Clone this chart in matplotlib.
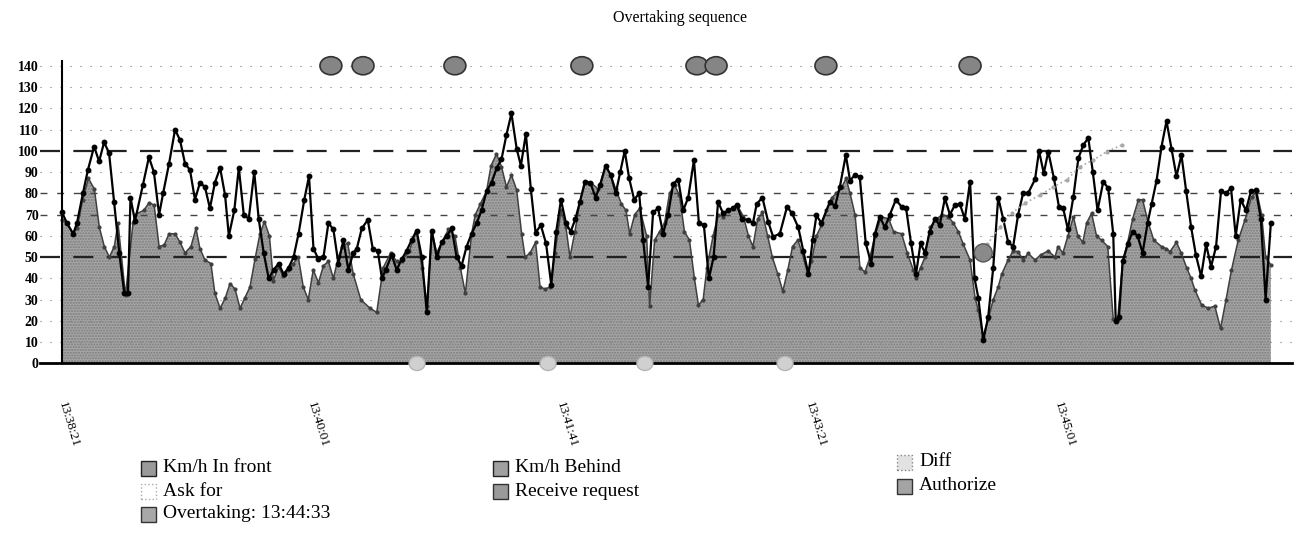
import matplotlib.pyplot as plt
from matplotlib.patches import Ellipse, Rectangle

plt.rcParams['font.family'] = ['Liberation Serif', 'DejaVu Serif']

# seconds after 13:38:21
front_t = [0, 2, 4.5, 6, 8.4, 10.4, 12.9, 14.9, 16.9, 18.9, 20.9, 23, 25, 26.5, 27.5, 29.3, 32.5, 34.9,
           36.9, 39, 40.6, 43, 45.4, 47.4, 49.4, 51.4, 53.4, 55.4, 57.4, 59.4, 61.4, 63.5, 65.5, 67, 69.2,
           71, 73, 75, 77.2, 79, 81, 83, 85, 87, 89, 91, 93, 95, 97.3, 99.2, 101, 103, 105, 107, 109, 111,
           113, 115, 117, 118.4, 120.4, 122.8, 124.8, 126.8, 128.5, 130, 132.4, 134.4, 136.4, 138.4, 140.4,
           142.4, 144.5, 146.5, 148.5, 150.5, 152.5, 154.5, 156.5, 158.5, 160.5, 162.5, 164.5, 166.5, 168.5,
           170.5, 172.5, 174.6, 176.5, 178.5, 180.5, 182.6, 184.3, 186.3, 188.3, 190.2, 192.3, 194.4, 196.5,
           198.5, 200.4, 202.4, 204.3, 206.2, 208, 210, 212.2, 214.3, 216.2, 218.3, 220.4, 222.4, 224.2, 226,
           227.8, 229.8, 231.8, 233.4, 235.4, 237.4, 239.4, 241.4, 243.4, 245.5, 247.5, 249.5, 251.5, 253.8,
           255.8, 257.8, 259.8, 261.7, 263.5, 265.5, 267.5, 269.5, 271, 273, 275.6, 277.5, 279, 281.3, 283.6,
           285.6, 288.3, 291.2, 293.2, 295.7, 297.7, 299.8, 301.5, 303, 305, 308.4, 310.5, 312.4, 314.8, 316.5,
           318.4, 320.4, 322.8, 325, 326.5, 328.4, 330.5, 332.5, 334.9, 337.2, 339, 341, 343, 344.8, 346.6,
           348.5, 350.6, 352.5, 354.6, 356.6, 358.6, 360.6, 362.6, 364.7, 366.5, 368, 370, 372, 374, 376, 378,
           380, 382, 384, 386, 388, 390.8, 392.4, 394.3, 396.1, 398.4, 400.4, 402.1, 404, 406.2, 408.2, 410.2,
           412.2, 414, 415.9, 418.2, 420.2, 422.2, 423.2, 424.5, 426, 428, 430, 432, 434, 436, 437.6, 439.6,
           441.6, 443.6, 445.6, 447.6, 449.6, 451.5, 453.5, 455.4, 457.5, 459.5, 461.5, 463.5, 465.5, 467.5,
           469.5, 471.4, 473.4, 475.5, 477.5, 479.5, 481.5, 483.4, 485.5]
front_v = [71, 66, 61, 66, 80, 91, 102, 95, 104, 99, 76, 52, 33, 33, 78, 67, 84, 97,
           90, 70, 80, 94, 110, 105, 94, 91, 77, 85, 83, 73, 85, 92, 79, 60, 72,
           92, 70, 68, 90, 68, 52, 40, 44, 47, 42, 45, 50, 61, 77, 88, 54, 49, 50, 66, 63, 47,
           58, 44, 52, 54, 63.5, 67.5, 54, 53, 40, 44, 51, 44, 49, 53, 58,
           62.5, 50, 24, 62.5, 50, 57, 60, 63.5, 50, 46, 55, 61, 66, 72,
           81, 85, 92, 96, 107.5, 117.6, 101, 93, 108, 82, 61.5, 65, 56.5, 37,
           62, 77, 66, 62, 68, 76, 85.5, 85, 78, 84, 93, 88.6, 80, 90, 100,
           87, 77, 80, 58, 36, 71, 73, 61, 70, 84.6, 86.5, 72, 78, 95.6,
           66, 65, 40, 50, 76, 70.6, 72, 73, 74.6, 68, 67.5, 66, 75, 78, 66.7,
           59.6, 61, 73.7, 70.6, 64, 53, 42, 58, 69.6, 66, 76, 74, 83, 98, 86,
           88.6, 87.8, 56.5, 47, 61, 69, 64, 70, 77, 73.7, 73, 56.5, 42, 56.5, 52,
           62, 68, 65, 77.7, 70, 74.5, 75, 68, 85.5, 40, 31, 11, 22, 45, 78, 68,
           57, 55, 70, 80, 80, 86.6, 100, 89.4, 99.6, 87, 73.7, 73, 63, 78.4, 96.5, 102.8,
           106, 90, 72, 85.5, 82.4, 61, 20, 22, 48, 56, 62, 60, 52, 66, 75, 86,
           102, 114, 101, 88, 98, 81, 64, 51, 41, 56, 45.5, 55, 81, 80,
           82.5, 60, 77, 72, 81, 81.5, 68, 30, 66]

behind_t = [0, 2, 4.3, 6, 8.3, 10.6, 13, 15, 17, 19, 21, 22.5, 25.5, 28.5, 29.3, 32.8, 35, 37, 39, 41,
            43, 45.4, 47.4, 49.4, 51.8, 53.8, 55.4, 57.4, 59.8, 61.4, 63.5, 65.5, 67.5, 69.5, 71.5, 73.5,
            75.5, 77.5, 79.5, 81.3, 83.3, 84.9, 86.9, 88.9, 90.9, 92.9, 94.9, 96.9, 98.9, 100.9, 103, 105,
            107, 109, 111, 112.6, 114.7, 117, 120, 123.7, 126.4, 129, 132, 134.4, 136.4, 139.5, 142.4, 144.5,
            146.7, 148.5, 150.5, 152.5, 155.2, 157.8, 160, 162, 164.5, 166, 168, 170.5, 172.3, 174.5, 176.5,
            178.5, 180.5, 182.6, 184.6, 186, 188, 190.2, 192, 194, 196, 198, 200.4, 202.4, 204, 206, 208,
            210.3, 212.4, 215.4, 218.3, 220.4, 222.4, 224.7, 226.5, 228, 230, 232, 234.8, 236, 238, 240, 242,
            244, 246, 248, 250, 252, 254, 255.6, 257.5, 259, 261.5, 263.6, 265.6, 267.5, 269.5, 271.4, 273.7,
            275.7, 277.5, 279.4, 281.3, 283.4, 285.3, 287.5, 289.5, 291.5, 293.4, 295.5, 297.1, 299.5, 301,
            303, 305, 307, 309.2, 311, 313.2, 314.9, 316.5, 318.5, 320.5, 322.5, 324.5, 326.5, 329, 332, 334,
            337.2, 339.5, 341.9, 343, 344.8, 346.6, 348.6, 351.3, 353.5, 356, 358, 360, 362, 364.7, 366.7, 368,
            370, 372, 374, 376, 377.4, 380, 382, 384, 386, 388, 390.8, 393, 396.1, 398.8, 400, 402, 404, 406.2,
            408, 410, 411.5, 413.5, 415.5, 417.5, 420, 422.2, 424, 426, 428, 430, 432.3, 434, 436.3, 438.5,
            441.6, 443.5, 445, 447.6, 449.5, 451.7, 453.5, 455, 457.7, 460.4, 463, 465.3, 467.5, 469.7, 472.4,
            475.1, 477.8, 479.8, 481.8, 483.4, 485.5]
behind_v = [67.5, 66, 61, 63.5, 77, 87, 82, 64, 55, 50, 55, 66, 32, 66, 70, 72, 75.6, 74.5, 55, 55.7,
            61, 61, 57, 52, 55, 63.5, 54, 48.7, 47, 33, 26, 30.6, 37.6, 35, 26, 31,
            36, 49, 61, 66.7, 60, 39, 45.5, 41, 44, 47, 50, 36, 30, 44, 38, 46,
            48, 40, 50, 55, 56.7, 42, 30, 26, 24, 45, 52, 48, 48, 53, 62.5, 45,
            27, 62.5, 52, 57, 63, 60, 45, 33, 61, 70, 75, 81, 93, 98.5, 92.6,
            83, 88.6, 81.6, 61, 50, 52, 57, 36, 35, 36, 52, 72, 64, 50, 62, 76,
            85.5, 85, 82, 93, 88.6, 82, 75, 72, 61, 70, 73, 60, 27, 58, 62, 66,
            80, 84, 79, 62, 58, 40, 27.5, 30, 45, 60, 70, 69, 72, 73, 74, 69,
            60, 55, 68, 71, 60, 50, 42, 34, 44, 55, 58, 52.6, 42, 48,
            60, 65, 72, 78, 80, 83, 87, 80, 70, 45, 43, 50, 60, 69, 68, 62,
            61, 52, 44, 40, 45, 50, 64, 68, 70, 69, 66, 62, 56, 48.7, 31, 25,
            12.6, 21, 30, 36, 42, 48.7, 53, 52.6, 48.7, 51.8, 48.7, 51, 53, 50, 55, 52, 60, 69,
            60, 57, 66, 70.6, 60, 58, 55, 21, 21, 48, 57, 68, 77, 77, 66, 58,
            55, 54, 52.6, 57, 52, 45, 40, 34.6, 27.5, 26, 27, 16.5, 30, 44, 58,
            67.5, 78.4, 81, 70, 50, 46.3]

diff_t = [371.6, 376.7, 381.4, 386.7, 392.8, 398.1, 403.5, 408.8, 414.2, 419.6, 425.6]
diff_v = [56, 64.3, 70.7, 75.4, 79.2, 83, 86.3, 92.5, 95.7, 99.6, 102.7]

request_t = [108, 120.9, 157.8, 208.8, 255, 262.7, 306.8, 364.7]   # top markers, at 140
ask_t = [142.6, 195.2, 234.1, 290.4]                                 # bottom markers, at 0
overtake_t, overtake_v = 370, 52

tick_t = [0, 100, 200, 300, 400]
tick_labels = ['13:38:21', '13:40:01', '13:41:41', '13:43:21', '13:45:01']

W, H = 1298, 552
fig = plt.figure(figsize=(W / 100, H / 100), dpi=100)
ax = fig.add_axes([40 / W, 0.3377, 1252 / W, 0.5509])
ax.set_xlim(-8.84, 494)
ax.set_ylim(-1, 142)
for s in ax.spines.values():
    s.set_visible(False)

# area for the car behind
ax.fill_between(behind_t, behind_v, 0, facecolor='#a6a6a6', edgecolor='#7c7c7c',
                hatch='......', linewidth=0, zorder=1)

# grid
for y in range(10, 141, 10):
    if y in (50, 100):
        ax.axhline(y, color='#222222', lw=1.6, dashes=(9, 6), zorder=2)
    elif y in (70, 80):
        ax.axhline(y, color='#444444', lw=1.0, dashes=(5, 7), zorder=2)
    else:
        ax.axhline(y, color='#777777', lw=0.8, dashes=(1, 8), zorder=2)

ax.plot(behind_t, behind_v, color='#404040', lw=1.1, marker='o', ms=2, zorder=3)
ax.plot(front_t, front_v, color='black', lw=1.6, marker='o', ms=3.2, zorder=4)
ax.plot(diff_t, diff_v, color='#a8a8a8', lw=1.2, ls=':', marker='.', ms=4, zorder=5)

ax.axhline(0, color='black', lw=2, zorder=6, clip_on=False)
ax.plot([0, 0], [0, 142], color='black', lw=1.5, zorder=6, clip_on=False)

for t in request_t:
    ax.add_patch(Ellipse((t, 140), 8.8, 8.5, facecolor='#858585', edgecolor='#333333',
                         lw=1.2, zorder=7, clip_on=False))
for t in ask_t:
    ax.add_patch(Ellipse((t, 0), 6.4, 6.6, facecolor='#d0d0d0', edgecolor='#b5b5b5',
                         lw=1, zorder=7, clip_on=False))
ax.add_patch(Ellipse((overtake_t, overtake_v), 7.2, 8.5, facecolor='#8a8a8a',
                     edgecolor='#555555', lw=1, zorder=7))

ax.set_yticks(range(0, 141, 10))
ax.set_yticklabels([str(v) for v in range(0, 141, 10)], fontsize=10, fontweight='bold')
ax.set_xticks(tick_t)
ax.set_xticklabels(tick_labels, fontsize=9.5, rotation=-73, ha='left', va='center',
                   rotation_mode='anchor')
ax.tick_params(axis='both', length=0)
ax.tick_params(axis='y', pad=1)
ax.tick_params(axis='x', pad=26)

fig.text(680 / W, 1 - 18 / H, 'Overtaking sequence', ha='center', va='center', fontsize=11.5)

# legend
legend_items = [
    ('Km/h In front', 141, 468, '#9a9a9a', '#222222', '-'),
    ('Ask for', 141, 491, '#ffffff', '#aaaaaa', ':'),
    ('Overtaking: 13:44:33', 141, 514, '#a8a8a8', '#333333', '-'),
    ('Km/h Behind', 493, 468, '#a0a0a0', '#222222', '-'),
    ('Receive request', 493, 491, '#9a9a9a', '#333333', '-'),
    ('Diff', 897, 462, '#e2e2e2', '#888888', ':'),
    ('Authorize', 897, 486, '#a4a4a4', '#333333', '-'),
]
for label, x, y, fc, ec, ls in legend_items:
    fig.patches.append(Rectangle((x / W, 1 - (y + 8) / H), 15 / W, 15 / H, transform=fig.transFigure,
                                 facecolor=fc, edgecolor=ec, lw=1, ls=ls))
    fig.text((x + 22) / W, 1 - y / H, label, ha='left', va='center', fontsize=14)

fig.savefig('out.png', dpi=100)
